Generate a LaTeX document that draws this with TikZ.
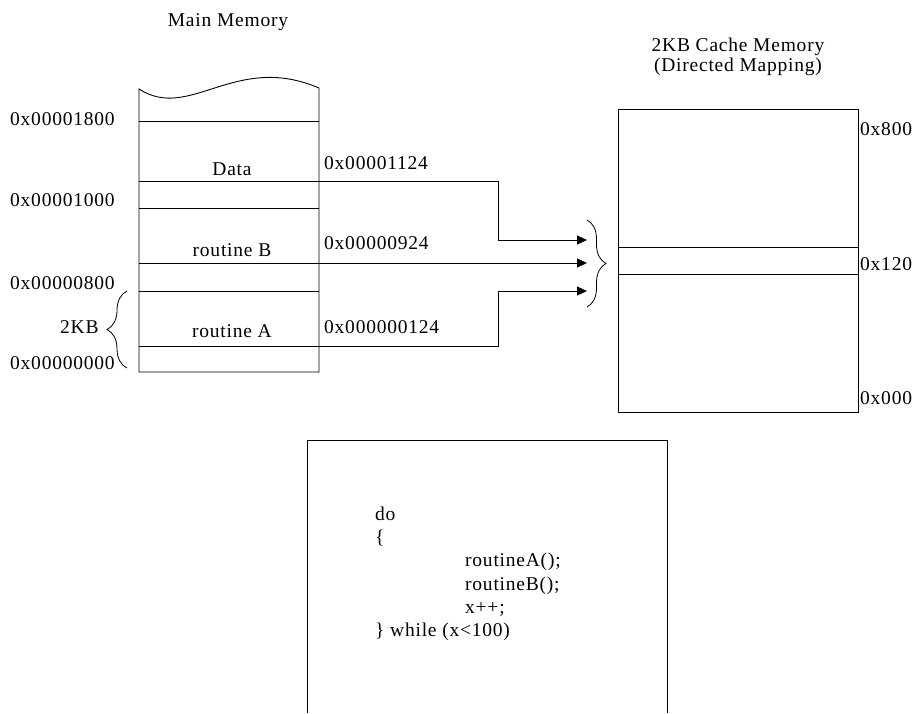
\documentclass[tikz,border=0pt]{standalone}
\usepackage{fontspec}
\setmainfont{Liberation Serif}[LetterSpace=4]
\usetikzlibrary{arrows.meta,decorations.pathreplacing}

\begin{document}
\begin{tikzpicture}[x=1pt,y=-1pt,
  every node/.style={inner sep=0pt, font=\fontsize{19.5}{22}\selectfont},
  lbl/.style={anchor=base west},
  ctr/.style={anchor=base},
  frame/.style={draw=black, line width=0.9pt},
  link/.style={draw=black, line width=0.9pt, -{Triangle[length=10pt,width=9pt]}},
  curlyL/.style={draw=black, line width=0.8pt, decorate, decoration={brace, amplitude=20pt}},
  curlyR/.style={draw=black, line width=0.8pt, decorate, decoration={brace, amplitude=19pt}}]
\useasboundingbox (0,0) rectangle (914,713);

% ---------- main memory ----------
\node[ctr] (mmTitle) at (228,26) {Main Memory};
\draw[frame] (139,372) -- (139,89) .. controls (190,122) and (235,52) .. (319,88) -- (319,372) -- cycle;
\foreach \yy in {121,181,208,263,291,346}
  \draw[frame] (139,\yy) -- (319,\yy);

\node[ctr] (dataLbl) at (232,175) {Data};
\node[ctr] (rbLbl) at (232,256) {routine B};
\node[ctr] (raLbl) at (232,337) {routine A};

\node[lbl] (a1800) at (10,125) {0x00001800};
\node[lbl] (a1000) at (10,206) {0x00001000};
\node[lbl] (a0800) at (10,289) {0x00000800};
\node[lbl] (a0000) at (10,369) {0x00000000};
\node[lbl] (kb) at (60,333) {2KB};
\draw[curlyL] (127,368) -- (127,291);

\node[lbl] (p1124) at (324,169) {0x00001124};
\node[lbl] (p0924) at (324,249) {0x00000924};
\node[lbl] (p0124) at (324,333) {0x000000124};

% ---------- mapping arrows ----------
\coordinate (dataOut) at (319,181);
\coordinate (bOut) at (319,263);
\coordinate (aOut) at (319,346);
\coordinate (bendD) at (498,240);
\coordinate (bendA) at (498,291);
\coordinate (tgtD) at (587,240);
\coordinate (tgtB) at (587,263);
\coordinate (tgtA) at (587,291);
\draw[link] (dataOut) -| (bendD) -- (tgtD);
\draw[link] (bOut) -- (tgtB);
\draw[link] (aOut) -| (bendA) -- (tgtA);
\draw[curlyR] (587,220) -- (587,307);

% ---------- cache ----------
\node[ctr] (cTitle1) at (738,51) {2KB Cache Memory};
\node[ctr] (cTitle2) at (738,71) {(Directed Mapping)};
\draw[frame] (618,109) rectangle (858,412);
\draw[frame] (618,247) -- (858,247);
\draw[frame] (618,274) -- (858,274);
\node[lbl] (c800) at (860,135) {0x800};
\node[lbl] (c120) at (860,270) {0x120};
\node[lbl] (c000) at (860,404) {0x000};

% ---------- loop code ----------
\draw[frame] (307,713) -- (307,440) -- (667,440) -- (667,713);
\node[lbl] (l1) at (375,520) {do};
\node[lbl] (l2) at (375,543.3) {\{};
\node[lbl] (l3) at (465,566.6) {routineA();};
\node[lbl] (l4) at (465,590) {routineB();};
\node[lbl] (l5) at (465,613.3) {x++;};
\node[lbl] (l6) at (375,636.6) {\} while (x<100)};
\end{tikzpicture}
\end{document}
